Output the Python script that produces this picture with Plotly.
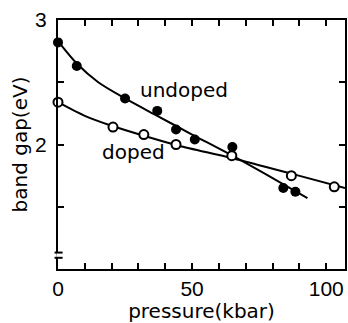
import plotly.graph_objects as go

# measured points
undoped_p = [0, 7, 25, 37, 44, 51, 65, 84, 88.5]
undoped_e = [2.82, 2.63, 2.37, 2.27, 2.12, 2.04, 1.98, 1.65, 1.62]
doped_p = [0, 20.5, 32, 44, 64.8, 87, 103]
doped_e = [2.34, 2.14, 2.08, 2.0, 1.91, 1.75, 1.66]

# fitted curves
undoped_fit_p = [0, 7, 15, 25, 37, 50, 65, 80, 93]
undoped_fit_e = [2.83, 2.65, 2.50, 2.37, 2.23, 2.08, 1.91, 1.73, 1.57]
doped_fit_p = [0, 10, 20, 32, 45, 65, 88, 107]
doped_fit_e = [2.34, 2.23, 2.15, 2.07, 1.99, 1.89, 1.76, 1.65]

x_ticks = [0, 10, 20, 30, 40, 50, 60, 70, 80, 90, 100]
x_ticktext = ["0", "", "", "", "", "50", "", "", "", "", "100"]
y_ticks = [1.5, 2, 2.5, 3]
y_ticktext = ["", "2", "", "3"]

FONT = "DejaVu Sans"
TICKFONT = "Liberation Sans"
fig = go.Figure()
fig.add_trace(go.Scatter(x=undoped_fit_p, y=undoped_fit_e, mode="lines",
                         line=dict(color="black", width=2, shape="spline", smoothing=0.8),
                         hoverinfo="skip"))
fig.add_trace(go.Scatter(x=doped_fit_p, y=doped_fit_e, mode="lines",
                         line=dict(color="black", width=2, shape="spline", smoothing=0.8),
                         hoverinfo="skip"))
fig.add_trace(go.Scatter(x=undoped_p, y=undoped_e, mode="markers",
                         marker=dict(color="black", size=10, line=dict(width=0)),
                         cliponaxis=False))
fig.add_trace(go.Scatter(x=doped_p, y=doped_e, mode="markers",
                         marker=dict(color="white", size=9, line=dict(color="black", width=2)),
                         cliponaxis=False))

fig.add_annotation(x=30, y=2.44, text="undoped", showarrow=False, xanchor="left",
                   font=dict(family=FONT, size=20, color="black"))
fig.add_annotation(x=15.5, y=1.94, text="doped", showarrow=False, xanchor="left",
                   font=dict(family=FONT, size=20, color="black"))

# axis break marks
fig.add_shape(type="rect", xref="paper", yref="y", x0=-0.006, x1=0.006,
              y0=1.095, y1=1.128, line=dict(width=0), fillcolor="white")
fig.add_shape(type="line", xref="paper", yref="y", x0=-0.012, x1=0.016,
              y0=1.132, y1=1.132, line=dict(color="black", width=2))
fig.add_shape(type="line", xref="paper", yref="y", x0=-0.012, x1=0.016,
              y0=1.09, y1=1.09, line=dict(color="black", width=2))

fig.update_layout(
    width=348, height=323,
    margin=dict(l=58, r=1, t=20, b=51),
    paper_bgcolor="white", plot_bgcolor="white",
    showlegend=False,
    font=dict(family=FONT, size=20, color="black"),
    xaxis=dict(range=[0, 107], tickvals=x_ticks, ticktext=x_ticktext,
               ticks="inside", ticklen=6, tickwidth=2, tickcolor="black",
               tickfont=dict(family=TICKFONT, size=21),
               showline=True, linewidth=2, linecolor="black", mirror="ticks",
               showgrid=False, zeroline=False,
               title=dict(text="pressure(kbar)", standoff=8,
                          font=dict(family=FONT, size=20))),
    yaxis=dict(range=[1, 3], tickvals=y_ticks, ticktext=y_ticktext,
               ticks="inside", ticklen=6, tickwidth=2, tickcolor="black",
               tickfont=dict(family=TICKFONT, size=21),
               ticklabelstandoff=5,
               showline=True, linewidth=2, linecolor="black", mirror="ticks",
               showgrid=False, zeroline=False,
               title=dict(text="band gap(eV)", standoff=2,
                          font=dict(family=FONT, size=20))),
)

fig.write_html("out.html")
